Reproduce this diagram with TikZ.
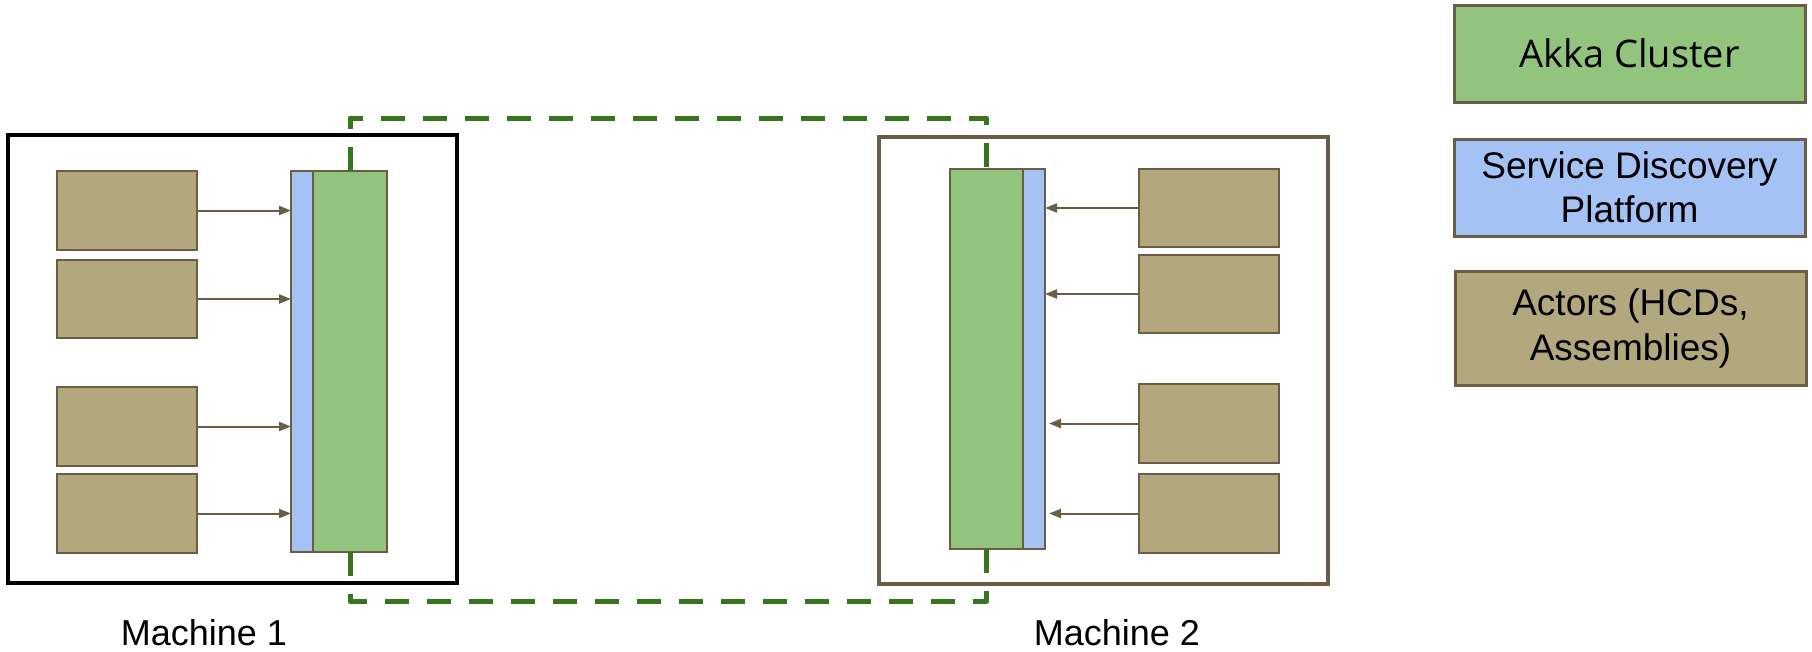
\documentclass[tikz,border=0pt]{standalone}
\usepackage{fontspec}
\setmainfont{Liberation Sans}
\newfontfamily\opensans{Open Sans}
\usetikzlibrary{arrows.meta,calc}
\definecolor{akka}{HTML}{93C47D}
\definecolor{sdp}{HTML}{A4C2F4}
\definecolor{actorfill}{HTML}{B3A77E}
\definecolor{brownline}{HTML}{6B5D45}
\definecolor{clusterline}{HTML}{38761D}
\tikzset{
  box/.style={draw=brownline, line width=2pt, inner sep=0pt, outer sep=0pt, anchor=north west},
  actor/.style={box, fill=actorfill, minimum width=140pt, minimum height=79pt},
  bluebar/.style={box, fill=sdp, minimum width=22pt},
  greenbar/.style={box, fill=akka, minimum width=74pt},
  machine/.style={box, line width=3.5pt, minimum width=449pt, minimum height=448pt},
  legend/.style={box, line width=3pt, minimum width=351pt, align=center, text=black},
  conn/.style={-{Triangle[length=12pt,width=9pt]}, draw=brownline, line width=2pt},
  cluster/.style={draw=clusterline, line width=5pt, dash pattern=on 24pt off 18pt, line join=round},
  lbl/.style={anchor=base, inner sep=0pt, font=\fontsize{36}{43}\selectfont}
}
\begin{document}
\begin{tikzpicture}[x=1pt,y=-1pt]
\useasboundingbox (0,0) rectangle (1812,651);
% machines
\node[machine, draw=black] (m1) at (8,135) {};
\node[machine, minimum height=447pt] (m2) at (879,137) {};
% machine 1 contents
\node[bluebar, minimum height=381pt] (b1) at (291,171) {};
\node[greenbar, minimum height=381pt] (g1) at (313,171) {};
\node[actor] (a1) at (57,171) {};
\node[actor, minimum height=78pt] (a2) at (57,260) {};
\node[actor] (a3) at (57,387) {};
\node[actor] (a4) at (57,474) {};
% machine 2 contents
\node[greenbar, minimum width=73pt, minimum height=380pt] (g2) at (950,169) {};
\node[bluebar, minimum height=380pt] (b2) at (1023,169) {};
\node[actor, minimum height=78pt] (c1) at (1139,169) {};
\node[actor, minimum height=78pt] (c2) at (1139,255) {};
\node[actor] (c3) at (1139,384) {};
\node[actor] (c4) at (1139,474) {};
% arrows
\draw[conn] (a1.east) -- (a1.east -| b1.west);
\draw[conn] (a2.east) -- (a2.east -| b1.west);
\draw[conn] (a3.east) -- (a3.east -| b1.west);
\draw[conn] (a4.east) -- (a4.east -| b1.west);
\draw[conn] (c1.west) -- (c1.west -| b2.east);
\draw[conn] (c2.west) -- (c2.west -| b2.east);
\draw[conn] (c3.west) -- ([xshift=4pt]c3.west -| b2.east);
\draw[conn] (c4.west) -- ([xshift=4pt]c4.west -| b2.east);
% cluster links
\coordinate (topy) at (0,118);
\coordinate (boty) at (0,601);
\draw[cluster] (g1.north) |- (topy -| g2.north) -- (g2.north);
\draw[cluster] (g1.south) |- (boty -| g2.south) -- (g2.south);
% labels
\node[lbl] (l1) at (204,645) {Machine 1};
\node[lbl] (l2) at (1117,645) {Machine 2};
% legend
\node[legend, fill=akka, minimum height=97pt, font=\opensans\fontsize{38}{45}\selectfont] (k1) at (1454,5) {Akka Cluster};
\node[legend, fill=sdp, minimum height=97pt, font=\fontsize{37}{44}\selectfont] (k2) at (1454,139) {Service Discovery\\Platform};
\node[legend, fill=actorfill, minimum height=114pt, font=\fontsize{37}{45}\selectfont] (k3) at (1455,271) {Actors (HCDs,\\Assemblies)};
\end{tikzpicture}
\end{document}
